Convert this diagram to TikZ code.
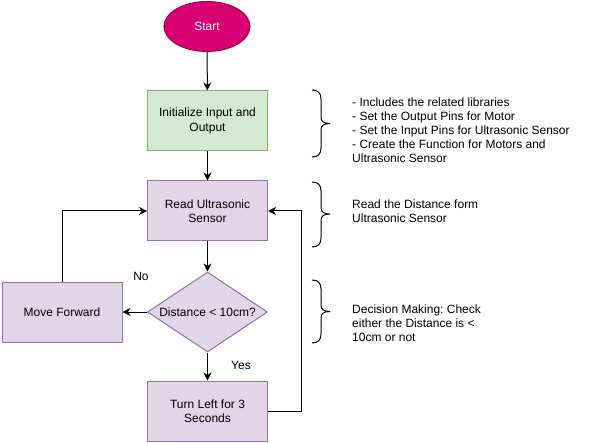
\documentclass[tikz,border=0pt]{standalone}
\usepackage{fontspec}
\setmainfont{Liberation Sans}
\frenchspacing
\usetikzlibrary{shapes.geometric,arrows.meta}
\definecolor{startfill}{HTML}{D80073}
\definecolor{startline}{HTML}{A50040}
\definecolor{initfill}{HTML}{D5E8D4}
\definecolor{initline}{HTML}{82B366}
\definecolor{stepfill}{HTML}{E1D5E7}
\definecolor{stepline}{HTML}{9673A6}
\begin{document}
\begin{tikzpicture}[x=1pt,y=1pt,
		every node/.style={inner sep=0pt,font=\fontsize{12}{14.4}\selectfont},
		startnode/.style={ellipse,draw=startline,fill=startfill,text=white,line width=1pt,minimum width=86pt,minimum height=50pt},
		box/.style={rectangle,line width=1pt,minimum width=120pt,minimum height=60pt,align=center},
		initbox/.style={box,draw=initline,fill=initfill},
		stepbox/.style={box,draw=stepline,fill=stepfill},
		decisionbox/.style={diamond,draw=stepline,fill=stepfill,line width=1pt,minimum width=120pt,minimum height=80pt,aspect=1.5},
		sidenote/.style={anchor=west,align=left,font=\fontsize{12}{14}\selectfont},
		flow/.style={line width=1pt,-{Stealth[length=8pt,width=8pt,inset=2.5pt]}},
		bracket/.style={line width=1pt}]
	\useasboundingbox (0,0) rectangle (593,-443);
	\node [startnode] (start) at (207,-26.5) {Start};
	\node [initbox] (init) at (207.5,-121) {Initialize Input and\\Output};
	\node [stepbox] (read) at (207.5,-211) {Read Ultrasonic\\Sensor};
	\node [decisionbox] (check) at (207.5,-312) {Distance < 10cm?};
	\node [stepbox] (forward) at (62,-312) {Move Forward};
	\node [stepbox] (turn) at (207.5,-411) {Turn Left for 3\\Seconds};
	\coordinate (bend) at (301,-411);
	\draw [flow] (start) -- (init);
	\draw [flow] (init) -- (read);
	\draw [flow] (read) -- (check);
	\draw [flow] (check.west) -- (forward.east);
	\draw [flow] (check.south) -- (turn.north);
	\draw [flow] (forward.north) |- (read.west);
	\draw [flow] (turn.east) -- (bend) |- (read.east);
	\node (no) at (141,-276) {No};
	\node (yes) at (241,-365) {Yes};
	\draw [bracket] (312,-90) .. controls (318,-90) and (321,-93) .. (321,-99) -- (321,-117.5) .. controls (321,-121.5) and (324,-123.5) .. (330,-123.5) .. controls (324,-123.5) and (321,-125.5) .. (321,-129.5) -- (321,-148) .. controls (321,-154) and (318,-157) .. (312,-157);
	\draw [bracket] (312,-182) .. controls (318,-182) and (321,-185) .. (321,-191) -- (321,-208) .. controls (321,-212) and (324,-214) .. (330,-214) .. controls (324,-214) and (321,-216) .. (321,-220) -- (321,-238) .. controls (321,-244) and (318,-247) .. (312,-247);
	\draw [bracket] (312,-280) .. controls (318,-280) and (321,-283) .. (321,-289) -- (321,-305.5) .. controls (321,-309.5) and (324,-311.5) .. (330,-311.5) .. controls (324,-311.5) and (321,-313.5) .. (321,-317.5) -- (321,-334) .. controls (321,-340) and (318,-343) .. (312,-343);
	\node [sidenote] (initnote) at (352,-130) {- Includes the related libraries\\- Set the Output Pins for Motor\\- Set the Input Pins for Ultrasonic Sensor\\- Create the Function for Motors and\\Ultrasonic Sensor};
	\node [sidenote] (readnote) at (352,-211) {Read the Distance form\\Ultrasonic Sensor};
	\node [sidenote] (checknote) at (352,-323.5) {Decision Making: Check\\either the Distance is <\\10cm or not};
\end{tikzpicture}
\end{document}
